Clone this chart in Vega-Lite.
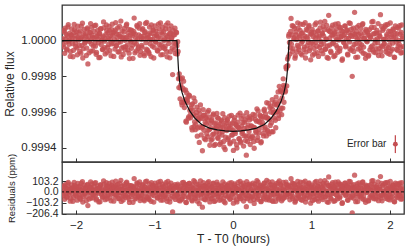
{
"$schema":"https://vega.github.io/schema/vega-lite/v6.json",
"padding":{"top":4,"left":3,"right":4,"bottom":5},
"spacing":0,
"bounds":"flush",
"background":"white",
"config":{
 "view":{"stroke":"#333333","strokeWidth":1.3},
 "font":"Liberation Sans",
 "axis":{"domain":false,"grid":false,"tickColor":"#333333","tickSize":-4,"tickWidth":1,"labelOverlap":false,"labelFont":"Liberation Sans","labelColor":"#262626","titleFont":"Liberation Sans","titleFontWeight":"normal","titleColor":"#262626"}
},
"datasets":{
"obs":[
{"t":-2.17,"f":1.000012,"r":12},{"t":-2.16,"f":0.999965,"r":-35},{"t":-2.15,"f":1.000048,"r":48},{"t":-2.14,"f":1.00007,"r":70},{"t":-2.13,"f":0.999992,"r":-8},{"t":-2.12,"f":0.999948,"r":-52},{"t":-2.11,"f":1.000025,"r":25},{"t":-2.10,"f":1.00009,"r":90},{"t":-2.09,"f":0.99998,"r":-20},{"t":-2.08,"f":1.000005,"r":5},
{"t":-2.07,"f":0.999939,"r":-61},{"t":-2.06,"f":1.000033,"r":33},{"t":-2.05,"f":1.000015,"r":15},{"t":-2.04,"f":0.99991,"r":-90},{"t":-2.03,"f":1.000044,"r":44},{"t":-2.02,"f":1.000062,"r":62},{"t":-2.01,"f":0.999986,"r":-14},{"t":-2.00,"f":1.000028,"r":28},{"t":-1.99,"f":0.99996,"r":-40},{"t":-1.98,"f":1.000081,"r":81},
{"t":-1.97,"f":1.000003,"r":3},{"t":-1.96,"f":0.999973,"r":-27},{"t":-1.95,"f":1.000055,"r":55},{"t":-1.94,"f":0.99993,"r":-70},{"t":-1.93,"f":1.00002,"r":20},{"t":-1.92,"f":1.000098,"r":98},{"t":-1.91,"f":0.999955,"r":-45},{"t":-1.90,"f":1.00001,"r":10},{"t":-1.89,"f":0.999985,"r":-15},{"t":-1.88,"f":1.000037,"r":37},
{"t":-1.87,"f":0.999917,"r":-83},{"t":-1.86,"f":1.000064,"r":64},{"t":-1.85,"f":0.99987,"r":-130},{"t":-1.84,"f":1.000022,"r":22},{"t":-1.83,"f":0.999995,"r":-5},{"t":-1.82,"f":1.000046,"r":46},{"t":-1.81,"f":0.999942,"r":-58},{"t":-1.80,"f":1.000075,"r":75},{"t":-1.79,"f":1.000018,"r":18},{"t":-1.78,"f":0.99997,"r":-30},
{"t":-1.77,"f":1.000052,"r":52},{"t":-1.76,"f":0.999988,"r":-12},{"t":-1.75,"f":1.000087,"r":87},{"t":-1.74,"f":0.999934,"r":-66},{"t":-1.73,"f":1.00003,"r":30},{"t":-1.72,"f":1.000008,"r":8},{"t":-1.71,"f":0.999905,"r":-95},{"t":-1.70,"f":1.000041,"r":41},{"t":-1.69,"f":1.000066,"r":66},{"t":-1.68,"f":0.999978,"r":-22},
{"t":-1.67,"f":1.000019,"r":19},{"t":-1.66,"f":0.999952,"r":-48},{"t":-1.65,"f":1.000105,"r":105},{"t":-1.64,"f":0.999997,"r":-3},{"t":-1.63,"f":0.999926,"r":-74},{"t":-1.62,"f":1.000035,"r":35},{"t":-1.61,"f":1.000058,"r":58},{"t":-1.60,"f":0.999963,"r":-37},{"t":-1.59,"f":1.000013,"r":13},{"t":-1.58,"f":1.00008,"r":80},
{"t":-1.57,"f":0.999944,"r":-56},{"t":-1.56,"f":1.000027,"r":27},{"t":-1.55,"f":0.999982,"r":-18},{"t":-1.54,"f":1.000092,"r":92},{"t":-1.53,"f":1.000044,"r":44},{"t":-1.52,"f":0.999912,"r":-88},{"t":-1.51,"f":1.000006,"r":6},{"t":-1.50,"f":1.00006,"r":60},{"t":-1.49,"f":0.999971,"r":-29},{"t":-1.48,"f":1.000038,"r":38},
{"t":-1.47,"f":1.000071,"r":71},{"t":-1.46,"f":0.999991,"r":-9},{"t":-1.45,"f":0.999937,"r":-63},{"t":-1.44,"f":1.000024,"r":24},{"t":-1.43,"f":1.00011,"r":110},{"t":-1.42,"f":0.999959,"r":-41},{"t":-1.41,"f":1.000016,"r":16},{"t":-1.40,"f":0.999923,"r":-77},{"t":-1.39,"f":1.000049,"r":49},{"t":-1.38,"f":1.000002,"r":2},
{"t":-1.37,"f":0.999967,"r":-33},{"t":-1.36,"f":1.000085,"r":85},{"t":-1.35,"f":1.000021,"r":21},{"t":-1.34,"f":0.999948,"r":-52},{"t":-1.33,"f":1.000063,"r":63},{"t":-1.32,"f":0.9999,"r":-100},{"t":-1.31,"f":1.000031,"r":31},{"t":-1.30,"f":0.999994,"r":-6},{"t":-1.29,"f":1.000057,"r":57},{"t":-1.28,"f":0.999975,"r":-25},
{"t":-1.27,"f":1.00004,"r":40},{"t":-1.26,"f":1.000127,"r":127},{"t":-1.25,"f":0.999932,"r":-68},{"t":-1.24,"f":1.000014,"r":14},{"t":-1.23,"f":0.999981,"r":-19},{"t":-1.22,"f":1.000078,"r":78},{"t":-1.21,"f":0.999956,"r":-44},{"t":-1.20,"f":1.000033,"r":33},{"t":-1.19,"f":1.000095,"r":95},{"t":-1.18,"f":0.99994,"r":-60},
{"t":-1.17,"f":1.000009,"r":9},{"t":-1.16,"f":0.999964,"r":-36},{"t":-1.15,"f":1.000068,"r":68},{"t":-1.14,"f":1.000025,"r":25},{"t":-1.13,"f":0.999916,"r":-84},{"t":-1.12,"f":1.00005,"r":50},{"t":-1.11,"f":0.999989,"r":-11},{"t":-1.10,"f":1.000102,"r":102},{"t":-1.09,"f":0.999947,"r":-53},{"t":-1.08,"f":1.000018,"r":18},
{"t":-1.07,"f":0.999928,"r":-72},{"t":-1.06,"f":1.000043,"r":43},{"t":-1.05,"f":1.000007,"r":7},{"t":-1.04,"f":1.000088,"r":88},{"t":-1.03,"f":0.99997,"r":-30},{"t":-1.02,"f":1.000061,"r":61},{"t":-1.01,"f":0.999903,"r":-97},{"t":-1.00,"f":1.000026,"r":26},{"t":-0.99,"f":0.999996,"r":-4},{"t":-0.98,"f":1.000054,"r":54},
{"t":-0.97,"f":1.000036,"r":36},{"t":-0.96,"f":0.999942,"r":-58},{"t":-0.95,"f":1.000093,"r":93},{"t":-0.94,"f":0.999979,"r":-21},{"t":-0.93,"f":1.000012,"r":12},{"t":-0.92,"f":0.999921,"r":-79},{"t":-0.91,"f":1.000047,"r":47},{"t":-0.90,"f":1.000074,"r":74},{"t":-0.89,"f":0.999962,"r":-38},{"t":-0.88,"f":1.000001,"r":1},
{"t":-0.87,"f":0.999955,"r":-45},{"t":-0.86,"f":1.000066,"r":66},{"t":-0.85,"f":1.000029,"r":29},{"t":-0.84,"f":0.99991,"r":-90},{"t":-0.83,"f":1.0001,"r":100},{"t":-0.82,"f":0.999984,"r":-16},{"t":-0.81,"f":1.000039,"r":39},{"t":-0.80,"f":0.999938,"r":-62},{"t":-0.79,"f":1.000083,"r":83},{"t":-0.78,"f":1.000015,"r":15},
{"t":-0.77,"f":0.99981,"r":-190},{"t":-0.76,"f":1.000032,"r":32},{"t":-0.75,"f":0.99995,"r":-50},{"t":-0.74,"f":1.00007,"r":70},{"t":-0.73,"f":0.99998,"r":-20},{"t":-0.72,"f":1.000045,"r":45},{"t":-0.71,"f":0.999925,"r":-35},{"t":-0.70,"f":0.99994,"r":60},{"t":-0.69,"f":0.999737,"r":-80},{"t":-0.68,"f":0.99979,"r":20},
{"t":-0.67,"f":0.999735,"r":-15},{"t":-0.66,"f":0.999785,"r":55},{"t":-0.65,"f":0.99964,"r":-70},{"t":-0.64,"f":0.999734,"r":38},{"t":-0.63,"f":0.999773,"r":90},{"t":-0.62,"f":0.999625,"r":-44},{"t":-0.61,"f":0.999669,"r":12},{"t":-0.60,"f":0.999549,"r":-99},{"t":-0.59,"f":0.999707,"r":67},{"t":-0.58,"f":0.999655,"r":24},
{"t":-0.57,"f":0.999565,"r":-57},{"t":-0.56,"f":0.999695,"r":81},{"t":-0.55,"f":0.999609,"r":4},{"t":-0.54,"f":0.999568,"r":-31},{"t":-0.53,"f":0.99964,"r":48},{"t":-0.52,"f":0.9995,"r":-86},{"t":-0.51,"f":0.99961,"r":30},{"t":-0.50,"f":0.99968,"r":106},{"t":-0.49,"f":0.999545,"r":-23},{"t":-0.48,"f":0.999501,"r":-62},
{"t":-0.47,"f":0.999578,"r":19},{"t":-0.46,"f":0.999628,"r":73},{"t":-0.45,"f":0.999511,"r":-40},{"t":-0.44,"f":0.999556,"r":9},{"t":-0.43,"f":0.99943,"r":-112},{"t":-0.42,"f":0.99959,"r":52},{"t":-0.41,"f":0.999569,"r":35},{"t":-0.40,"f":0.999512,"r":-18},{"t":-0.39,"f":0.999383,"r":-145},{"t":-0.38,"f":0.999614,"r":88},
{"t":-0.37,"f":0.999498,"r":-26},{"t":-0.36,"f":0.999583,"r":61},{"t":-0.35,"f":0.999445,"r":-75},{"t":-0.34,"f":0.999532,"r":14},{"t":-0.33,"f":0.999558,"r":42},{"t":-0.32,"f":0.999462,"r":-52},{"t":-0.31,"f":0.999609,"r":97},{"t":-0.30,"f":0.999502,"r":-8},{"t":-0.29,"f":0.999537,"r":28},{"t":-0.28,"f":0.999442,"r":-66},
{"t":-0.27,"f":0.999557,"r":50},{"t":-0.26,"f":0.999473,"r":-33},{"t":-0.25,"f":0.999589,"r":84},{"t":-0.24,"f":0.999413,"r":-91},{"t":-0.23,"f":0.999509,"r":6},{"t":-0.22,"f":0.999539,"r":37},{"t":-0.21,"f":0.999487,"r":-14},{"t":-0.20,"f":0.999569,"r":69},{"t":-0.19,"f":0.999452,"r":-47},{"t":-0.18,"f":0.999522,"r":23},
{"t":-0.17,"f":0.999418,"r":-80},{"t":-0.16,"f":0.999509,"r":11},{"t":-0.15,"f":0.999555,"r":58},{"t":-0.14,"f":0.999471,"r":-25},{"t":-0.13,"f":0.999591,"r":95},{"t":-0.12,"f":0.999435,"r":-60},{"t":-0.11,"f":0.999526,"r":31},{"t":-0.10,"f":0.99939,"r":-104},{"t":-0.09,"f":0.999539,"r":45},{"t":-0.08,"f":0.999496,"r":2},
{"t":-0.07,"f":0.999557,"r":64},{"t":-0.06,"f":0.999455,"r":-38},{"t":-0.05,"f":0.99951,"r":17},{"t":-0.04,"f":0.999422,"r":-71},{"t":-0.03,"f":0.999532,"r":40},{"t":-0.02,"f":0.999581,"r":89},{"t":-0.01,"f":0.999472,"r":-20},{"t":0.00,"f":0.999499,"r":7},{"t":0.01,"f":0.999437,"r":-55},{"t":0.02,"f":0.999568,"r":76},
{"t":0.03,"f":0.99948,"r":-12},{"t":0.04,"f":0.999526,"r":33},{"t":0.05,"f":0.999398,"r":-95},{"t":0.06,"f":0.999544,"r":51},{"t":0.07,"f":0.999514,"r":21},{"t":0.08,"f":0.999451,"r":-43},{"t":0.09,"f":0.999594,"r":100},{"t":0.10,"f":0.999428,"r":-66},{"t":0.11,"f":0.999523,"r":28},{"t":0.12,"f":0.99949,"r":-5},
{"t":0.13,"f":0.999578,"r":82},{"t":0.14,"f":0.999467,"r":-29},{"t":0.15,"f":0.999543,"r":46},{"t":0.16,"f":0.99944,"r":-58},{"t":0.17,"f":0.999358,"r":-140},{"t":0.18,"f":0.999512,"r":13},{"t":0.19,"f":0.999569,"r":70},{"t":0.20,"f":0.999464,"r":-36},{"t":0.21,"f":0.999556,"r":55},{"t":0.22,"f":0.999418,"r":-84},
{"t":0.23,"f":0.999521,"r":18},{"t":0.24,"f":0.999565,"r":61},{"t":0.25,"f":0.999458,"r":-47},{"t":0.26,"f":0.999515,"r":9},{"t":0.27,"f":0.999397,"r":-110},{"t":0.28,"f":0.999582,"r":74},{"t":0.29,"f":0.999493,"r":-16},{"t":0.30,"f":0.999549,"r":39},{"t":0.31,"f":0.999441,"r":-71},{"t":0.32,"f":0.999606,"r":92},
{"t":0.33,"f":0.999482,"r":-34},{"t":0.34,"f":0.999543,"r":25},{"t":0.35,"f":0.999577,"r":57},{"t":0.36,"f":0.999434,"r":-88},{"t":0.37,"f":0.999527,"r":3},{"t":0.38,"f":0.999574,"r":48},{"t":0.39,"f":0.999466,"r":-62},{"t":0.40,"f":0.999616,"r":86},{"t":0.41,"f":0.999515,"r":-19},{"t":0.42,"f":0.999568,"r":30},
{"t":0.43,"f":0.999652,"r":110},{"t":0.44,"f":0.999497,"r":-50},{"t":0.45,"f":0.999565,"r":14},{"t":0.46,"f":0.999478,"r":-77},{"t":0.47,"f":0.999625,"r":66},{"t":0.48,"f":0.9996,"r":37},{"t":0.49,"f":0.99954,"r":-28},{"t":0.50,"f":0.999669,"r":95},{"t":0.51,"f":0.999489,"r":-91},{"t":0.52,"f":0.999594,"r":8},
{"t":0.53,"f":0.999644,"r":52},{"t":0.54,"f":0.999554,"r":-45},{"t":0.55,"f":0.999684,"r":79},{"t":0.56,"f":0.999601,"r":-13},{"t":0.57,"f":0.999644,"r":22},{"t":0.58,"f":0.999564,"r":-67},{"t":0.59,"f":0.999744,"r":104},{"t":0.60,"f":0.999609,"r":-39},{"t":0.61,"f":0.999717,"r":60},{"t":0.62,"f":0.999585,"r":-84},
{"t":0.63,"f":0.999709,"r":26},{"t":0.64,"f":0.999786,"r":90},{"t":0.65,"f":0.999655,"r":-55},{"t":0.66,"f":0.999741,"r":11},{"t":0.67,"f":0.99972,"r":-30},{"t":0.68,"f":0.999842,"r":72},{"t":0.69,"f":0.999857,"r":40},{"t":0.70,"f":0.99986,"r":-20},{"t":0.71,"f":1.000025,"r":65},{"t":0.72,"f":0.99999,"r":-10},
{"t":0.73,"f":0.99996,"r":-40},{"t":0.74,"f":1.000125,"r":125},{"t":0.75,"f":1.000033,"r":33},{"t":0.76,"f":0.999938,"r":-62},{"t":0.77,"f":1.000081,"r":81},{"t":0.78,"f":1.000017,"r":17},{"t":0.79,"f":0.999902,"r":-98},{"t":0.80,"f":1.000049,"r":49},{"t":0.81,"f":1.000006,"r":6},{"t":0.82,"f":0.999973,"r":-27},
{"t":0.83,"f":1.00007,"r":70},{"t":0.84,"f":0.999949,"r":-51},{"t":0.85,"f":1.000028,"r":28},{"t":0.86,"f":1.000093,"r":93},{"t":0.87,"f":0.999985,"r":-15},{"t":0.88,"f":0.99992,"r":-80},{"t":0.89,"f":1.000044,"r":44},{"t":0.90,"f":1.000012,"r":12},{"t":0.91,"f":0.999964,"r":-36},{"t":0.92,"f":1.000101,"r":101},
{"t":0.93,"f":0.999936,"r":-64},{"t":0.94,"f":1.000021,"r":21},{"t":0.95,"f":1.000058,"r":58},{"t":0.96,"f":0.999991,"r":-9},{"t":0.97,"f":1.000085,"r":85},{"t":0.98,"f":0.999958,"r":-42},{"t":0.99,"f":0.999893,"r":-107},{"t":1.00,"f":1.000037,"r":37},{"t":1.01,"f":1.000063,"r":63},{"t":1.02,"f":0.99998,"r":-20},
{"t":1.03,"f":1.000047,"r":47},{"t":1.04,"f":0.999927,"r":-73},{"t":1.05,"f":1.000015,"r":15},{"t":1.06,"f":1.000099,"r":99},{"t":1.07,"f":0.999969,"r":-31},{"t":1.08,"f":1.000054,"r":54},{"t":1.09,"f":0.999912,"r":-88},{"t":1.10,"f":1.000026,"r":26},{"t":1.11,"f":1.000072,"r":72},{"t":1.12,"f":0.999996,"r":-4},
{"t":1.13,"f":0.999944,"r":-56},{"t":1.14,"f":1.000038,"r":38},{"t":1.15,"f":1.00008,"r":80},{"t":1.16,"f":0.999981,"r":-19},{"t":1.17,"f":1.000108,"r":108},{"t":1.18,"f":0.999953,"r":-47},{"t":1.19,"f":1.000009,"r":9},{"t":1.20,"f":0.999906,"r":-94},{"t":1.21,"f":1.000061,"r":61},{"t":1.22,"f":1.000142,"r":142},
{"t":1.23,"f":0.999975,"r":-25},{"t":1.24,"f":1.00005,"r":50},{"t":1.25,"f":0.999934,"r":-66},{"t":1.26,"f":1.00003,"r":30},{"t":1.27,"f":1.000087,"r":87},{"t":1.28,"f":0.999988,"r":-12},{"t":1.29,"f":1.000042,"r":42},{"t":1.30,"f":0.999917,"r":-83},{"t":1.31,"f":1.000018,"r":18},{"t":1.32,"f":1.000066,"r":66},
{"t":1.33,"f":0.999961,"r":-39},{"t":1.34,"f":1.000095,"r":95},{"t":1.35,"f":1.000004,"r":4},{"t":1.36,"f":0.999942,"r":-58},{"t":1.37,"f":1.000073,"r":73},{"t":1.38,"f":1.000024,"r":24},{"t":1.39,"f":0.99989,"r":-110},{"t":1.40,"f":1.000051,"r":51},{"t":1.41,"f":0.999993,"r":-7},{"t":1.42,"f":1.000035,"r":35},
{"t":1.43,"f":1.000082,"r":82},{"t":1.44,"f":0.999972,"r":-28},{"t":1.45,"f":1.000057,"r":57},{"t":1.46,"f":0.999925,"r":-75},{"t":1.47,"f":1.000013,"r":13},{"t":1.48,"f":1.0001,"r":100},{"t":1.49,"f":0.999954,"r":-46},{"t":1.50,"f":1.000029,"r":29},{"t":1.51,"f":1.000064,"r":64},{"t":1.52,"f":0.9998,"r":-200},
{"t":1.53,"f":1.000041,"r":41},{"t":1.54,"f":0.99994,"r":-60},{"t":1.55,"f":1.000159,"r":159},{"t":1.56,"f":1.000022,"r":22},{"t":1.57,"f":0.999983,"r":-17},{"t":1.58,"f":1.000076,"r":76},{"t":1.59,"f":0.999908,"r":-92},{"t":1.60,"f":1.000035,"r":35},{"t":1.61,"f":1.000008,"r":8},{"t":1.62,"f":0.999959,"r":-41},
{"t":1.63,"f":1.000068,"r":68},{"t":1.64,"f":0.999977,"r":-23},{"t":1.65,"f":1.00009,"r":90},{"t":1.66,"f":0.99993,"r":-70},{"t":1.67,"f":1.000014,"r":14},{"t":1.68,"f":1.000047,"r":47},{"t":1.69,"f":0.999901,"r":-99},{"t":1.70,"f":1.000055,"r":55},{"t":1.71,"f":0.999994,"r":-6},{"t":1.72,"f":1.000031,"r":31},
{"t":1.73,"f":0.999919,"r":-81},{"t":1.74,"f":1.000062,"r":62},{"t":1.75,"f":1.00002,"r":20},{"t":1.76,"f":0.999964,"r":-36},{"t":1.77,"f":1.000105,"r":105},{"t":1.78,"f":0.999948,"r":-52},{"t":1.79,"f":1.000038,"r":38},{"t":1.80,"f":1.000074,"r":74},{"t":1.81,"f":0.999986,"r":-14},{"t":1.82,"f":0.999933,"r":-67},
{"t":1.83,"f":1.000043,"r":43},{"t":1.84,"f":1.000011,"r":11},{"t":1.85,"f":1.000096,"r":96},{"t":1.86,"f":0.999956,"r":-44},{"t":1.87,"f":1.000027,"r":27},{"t":1.88,"f":1.000146,"r":146},{"t":1.89,"f":0.99997,"r":-30},{"t":1.90,"f":0.999915,"r":-85},{"t":1.91,"f":1.000058,"r":58},{"t":1.92,"f":1.000007,"r":7},
{"t":1.93,"f":0.999982,"r":-18},{"t":1.94,"f":1.000079,"r":79},{"t":1.95,"f":0.999938,"r":-62},{"t":1.96,"f":1.000034,"r":34},{"t":1.97,"f":1.000091,"r":91},{"t":1.98,"f":0.999961,"r":-39},{"t":1.99,"f":1.000005,"r":5},{"t":2.00,"f":0.999924,"r":-76},{"t":2.01,"f":1.000052,"r":52},{"t":2.02,"f":1.000023,"r":23},
{"t":2.03,"f":0.999953,"r":-47},{"t":2.04,"f":1.000066,"r":66},{"t":2.05,"f":1.000015,"r":15},{"t":2.06,"f":0.999906,"r":-94},{"t":2.07,"f":1.000083,"r":83},{"t":2.08,"f":0.999992,"r":-8},{"t":2.09,"f":1.00004,"r":40},{"t":2.10,"f":0.999945,"r":-55},{"t":2.11,"f":1.00007,"r":70},{"t":2.12,"f":0.999979,"r":-21},
{"t":2.13,"f":1.000036,"r":36},{"t":2.14,"f":0.999931,"r":-69},{"t":2.15,"f":1.000088,"r":88},{"t":2.16,"f":1.000012,"r":12},{"t":2.17,"f":0.999967,"r":-33},
{"t":-2.165,"f":0.999978,"r":-22},{"t":-2.155,"f":1.000057,"r":57},{"t":-2.145,"f":0.999929,"r":-71},{"t":-2.135,"f":1.000008,"r":8},{"t":-2.125,"f":1.000034,"r":34},{"t":-2.115,"f":0.999954,"r":-46},{"t":-2.105,"f":1.000077,"r":77},{"t":-2.095,"f":0.999997,"r":-3},{"t":-2.085,"f":1.000041,"r":41},{"t":-2.075,"f":0.999912,"r":-88},
{"t":-2.065,"f":1.000029,"r":29},{"t":-2.055,"f":1.000066,"r":66},{"t":-2.045,"f":0.999983,"r":-17},{"t":-2.035,"f":0.999946,"r":-54},{"t":-2.025,"f":1.000091,"r":91},{"t":-2.015,"f":1.000012,"r":12},{"t":-2.005,"f":0.999967,"r":-33},{"t":-1.995,"f":1.00005,"r":50},{"t":-1.985,"f":0.999921,"r":-79},{"t":-1.975,"f":1.000019,"r":19},
{"t":-1.965,"f":1.000045,"r":45},{"t":-1.955,"f":0.99994,"r":-60},{"t":-1.945,"f":1.000014,"r":14},{"t":-1.935,"f":1.000082,"r":82},{"t":-1.925,"f":0.999974,"r":-26},{"t":-1.915,"f":0.999903,"r":-97},{"t":-1.905,"f":1.000038,"r":38},{"t":-1.895,"f":1.000063,"r":63},{"t":-1.885,"f":0.999992,"r":-8},{"t":-1.875,"f":1.000025,"r":25},
{"t":-1.865,"f":0.999958,"r":-42},{"t":-1.855,"f":1.000071,"r":71},{"t":-1.845,"f":1.000005,"r":5},{"t":-1.835,"f":0.999932,"r":-68},{"t":-1.825,"f":1.000047,"r":47},{"t":-1.815,"f":1.000096,"r":96},{"t":-1.805,"f":0.999981,"r":-19},{"t":-1.795,"f":1.00003,"r":30},{"t":-1.785,"f":0.999943,"r":-57},{"t":-1.775,"f":1.000013,"r":13},
{"t":-1.765,"f":1.000084,"r":84},{"t":-1.755,"f":0.999969,"r":-31},{"t":-1.745,"f":0.999924,"r":-76},{"t":-1.735,"f":1.000022,"r":22},{"t":-1.725,"f":1.000058,"r":58},{"t":-1.715,"f":0.999988,"r":-12},{"t":-1.705,"f":1.000039,"r":39},{"t":-1.695,"f":0.999907,"r":-93},{"t":-1.685,"f":1.000067,"r":67},{"t":-1.675,"f":1.000001,"r":1},
{"t":-1.665,"f":0.99995,"r":-50},{"t":-1.655,"f":1.000026,"r":26},{"t":-1.645,"f":1.000073,"r":73},{"t":-1.635,"f":0.999961,"r":-39},{"t":-1.625,"f":1.00001,"r":10},{"t":-1.615,"f":1.000088,"r":88},{"t":-1.605,"f":0.999935,"r":-65},{"t":-1.595,"f":1.000043,"r":43},{"t":-1.585,"f":0.999979,"r":-21},{"t":-1.575,"f":1.000055,"r":55},
{"t":-1.565,"f":1.000007,"r":7},{"t":-1.555,"f":0.999916,"r":-84},{"t":-1.545,"f":1.000062,"r":62},{"t":-1.535,"f":1.000031,"r":31},{"t":-1.525,"f":0.999985,"r":-15},{"t":-1.515,"f":1.000049,"r":49},{"t":-1.505,"f":0.999953,"r":-47},{"t":-1.495,"f":1.000101,"r":101},{"t":-1.485,"f":0.999971,"r":-29},{"t":-1.475,"f":1.000018,"r":18},
{"t":-1.465,"f":0.999937,"r":-63},{"t":-1.455,"f":1.000035,"r":35},{"t":-1.445,"f":1.00008,"r":80},{"t":-1.435,"f":0.999993,"r":-7},{"t":-1.425,"f":0.999909,"r":-91},{"t":-1.415,"f":1.000054,"r":54},{"t":-1.405,"f":1.000021,"r":21},{"t":-1.395,"f":0.999964,"r":-36},{"t":-1.385,"f":1.000069,"r":69},{"t":-1.375,"f":0.999948,"r":-52},
{"t":-1.365,"f":1.000016,"r":16},{"t":-1.355,"f":1.000093,"r":93},{"t":-1.345,"f":0.999976,"r":-24},{"t":-1.335,"f":1.000044,"r":44},{"t":-1.325,"f":0.99993,"r":-70},{"t":-1.315,"f":1.000003,"r":3},{"t":-1.305,"f":1.00006,"r":60},{"t":-1.295,"f":0.999957,"r":-43},{"t":-1.285,"f":1.000027,"r":27},{"t":-1.275,"f":0.999901,"r":-99},
{"t":-1.265,"f":1.000052,"r":52},{"t":-1.255,"f":0.999989,"r":-11},{"t":-1.245,"f":1.000037,"r":37},{"t":-1.235,"f":0.999942,"r":-58},{"t":-1.225,"f":1.000086,"r":86},{"t":-1.215,"f":1.000009,"r":9},{"t":-1.205,"f":0.999965,"r":-35},{"t":-1.195,"f":1.00007,"r":70},{"t":-1.185,"f":0.999918,"r":-82},{"t":-1.175,"f":1.000024,"r":24},
{"t":-1.165,"f":0.999973,"r":-27},{"t":-1.155,"f":1.000061,"r":61},{"t":-1.145,"f":1.000011,"r":11},{"t":-1.135,"f":0.999927,"r":-73},{"t":-1.125,"f":1.000045,"r":45},{"t":-1.115,"f":1.000097,"r":97},{"t":-1.105,"f":0.999952,"r":-48},{"t":-1.095,"f":1.000015,"r":15},{"t":-1.085,"f":1.000032,"r":32},{"t":-1.075,"f":0.999936,"r":-64},
{"t":-1.065,"f":1.000076,"r":76},{"t":-1.055,"f":0.999982,"r":-18},{"t":-1.045,"f":0.999911,"r":-89},{"t":-1.035,"f":1.00004,"r":40},{"t":-1.025,"f":1.000006,"r":6},{"t":-1.015,"f":1.000059,"r":59},{"t":-1.005,"f":0.999963,"r":-37},{"t":-0.995,"f":1.000083,"r":83},{"t":-0.985,"f":0.999991,"r":-9},{"t":-0.975,"f":1.000028,"r":28},
{"t":-0.965,"f":0.999945,"r":-55},{"t":-0.955,"f":1.000019,"r":19},{"t":-0.945,"f":1.000068,"r":68},{"t":-0.935,"f":0.999956,"r":-44},{"t":-0.925,"f":1.000099,"r":99},{"t":-0.915,"f":0.999977,"r":-23},{"t":-0.905,"f":1.000036,"r":36},{"t":-0.895,"f":0.999922,"r":-78},{"t":-0.885,"f":1.000051,"r":51},{"t":-0.875,"f":1.00001,"r":10},
{"t":-0.865,"f":0.999969,"r":-31},{"t":-0.855,"f":1.000087,"r":87},{"t":-0.845,"f":0.999939,"r":-61},{"t":-0.835,"f":1.000023,"r":23},{"t":-0.825,"f":1.000004,"r":4},{"t":-0.815,"f":1.000065,"r":65},{"t":-0.805,"f":0.999904,"r":-96},{"t":-0.795,"f":1.000042,"r":42},{"t":-0.785,"f":1.000017,"r":17},{"t":-0.775,"f":0.99996,"r":-40},
{"t":-0.765,"f":1.000058,"r":58},{"t":-0.755,"f":0.999986,"r":-14},{"t":-0.745,"f":1.000033,"r":33},{"t":-0.735,"f":0.999928,"r":-72},{"t":-0.725,"f":1.000048,"r":48},{"t":-0.715,"f":0.999972,"r":-28},{"t":-0.705,"f":0.999994,"r":74},{"t":-0.695,"f":0.999787,"r":-53},{"t":-0.685,"f":0.999814,"r":20},{"t":-0.675,"f":0.999674,"r":-86},
{"t":-0.665,"f":0.999752,"r":12},{"t":-0.655,"f":0.999654,"r":-66},{"t":-0.645,"f":0.999792,"r":89},{"t":-0.635,"f":0.999655,"r":-35},{"t":-0.625,"f":0.999723,"r":47},{"t":-0.615,"f":0.999655,"r":-8},{"t":-0.605,"f":0.999724,"r":72},{"t":-0.595,"f":0.999543,"r":-101},{"t":-0.585,"f":0.999665,"r":30},{"t":-0.575,"f":0.999681,"r":55},
{"t":-0.565,"f":0.999573,"r":-45},{"t":-0.555,"f":0.99969,"r":81},{"t":-0.545,"f":0.999583,"r":-19},{"t":-0.535,"f":0.999621,"r":26},{"t":-0.525,"f":0.999512,"r":-77},{"t":-0.515,"f":0.999646,"r":63},{"t":-0.505,"f":0.999585,"r":8},{"t":-0.495,"f":0.999519,"r":-52},{"t":-0.485,"f":0.999659,"r":94},{"t":-0.475,"f":0.999531,"r":-30},
{"t":-0.465,"f":0.999598,"r":41},{"t":-0.455,"f":0.999465,"r":-88},{"t":-0.445,"f":0.999564,"r":15},{"t":-0.435,"f":0.999611,"r":67},{"t":-0.425,"f":0.999517,"r":-23},{"t":-0.415,"f":0.99964,"r":104},{"t":-0.405,"f":0.999472,"r":-60},{"t":-0.395,"f":0.999564,"r":35},{"t":-0.385,"f":0.999518,"r":-9},{"t":-0.375,"f":0.999581,"r":56},
{"t":-0.365,"f":0.999452,"r":-71},{"t":-0.355,"f":0.999543,"r":22},{"t":-0.345,"f":0.999568,"r":49},{"t":-0.335,"f":0.999479,"r":-38},{"t":-0.325,"f":0.9996,"r":85},{"t":-0.315,"f":0.999499,"r":-14},{"t":-0.305,"f":0.999571,"r":60},{"t":-0.295,"f":0.999414,"r":-95},{"t":-0.285,"f":0.999511,"r":3},{"t":-0.275,"f":0.999551,"r":44},
{"t":-0.265,"f":0.999449,"r":-57},{"t":-0.255,"f":0.999583,"r":78},{"t":-0.245,"f":0.999478,"r":-26},{"t":-0.235,"f":0.999534,"r":31},{"t":-0.225,"f":0.999419,"r":-83},{"t":-0.215,"f":0.999513,"r":12},{"t":-0.205,"f":0.999592,"r":92},{"t":-0.195,"f":0.999458,"r":-41},{"t":-0.185,"f":0.999565,"r":66},{"t":-0.175,"f":0.99948,"r":-18},
{"t":-0.165,"f":0.999535,"r":37},{"t":-0.155,"f":0.999428,"r":-69},{"t":-0.145,"f":0.999549,"r":53},{"t":-0.135,"f":0.99949,"r":-6},{"t":-0.125,"f":0.999516,"r":21},{"t":-0.115,"f":0.999403,"r":-92},{"t":-0.105,"f":0.999569,"r":75},{"t":-0.095,"f":0.99946,"r":-34},{"t":-0.085,"f":0.999503,"r":9},{"t":-0.075,"f":0.999551,"r":58},
{"t":-0.065,"f":0.999445,"r":-48},{"t":-0.055,"f":0.999522,"r":29},{"t":-0.045,"f":0.999577,"r":84},{"t":-0.035,"f":0.999429,"r":-63},{"t":-0.025,"f":0.999508,"r":16},{"t":-0.015,"f":0.999471,"r":-21},{"t":-0.005,"f":0.999539,"r":47},{"t":0.005,"f":0.999385,"r":-107},{"t":0.015,"f":0.999554,"r":62},{"t":0.025,"f":0.999489,"r":-3},
{"t":0.035,"f":0.999531,"r":39},{"t":0.045,"f":0.999417,"r":-76},{"t":0.055,"f":0.999517,"r":24},{"t":0.065,"f":0.999583,"r":90},{"t":0.075,"f":0.99945,"r":-43},{"t":0.085,"f":0.999505,"r":11},{"t":0.095,"f":0.999436,"r":-58},{"t":0.105,"f":0.999564,"r":70},{"t":0.115,"f":0.99948,"r":-15},{"t":0.125,"f":0.999541,"r":46},
{"t":0.135,"f":0.999409,"r":-87},{"t":0.145,"f":0.999509,"r":13},{"t":0.155,"f":0.999556,"r":59},{"t":0.165,"f":0.999466,"r":-32},{"t":0.175,"f":0.999596,"r":98},{"t":0.185,"f":0.999435,"r":-64},{"t":0.195,"f":0.999527,"r":28},{"t":0.205,"f":0.999491,"r":-9},{"t":0.215,"f":0.999574,"r":73},{"t":0.225,"f":0.999452,"r":-50},
{"t":0.235,"f":0.999523,"r":20},{"t":0.245,"f":0.999465,"r":-39},{"t":0.255,"f":0.999587,"r":82},{"t":0.265,"f":0.999435,"r":-71},{"t":0.275,"f":0.999513,"r":6},{"t":0.285,"f":0.999559,"r":51},{"t":0.295,"f":0.999484,"r":-25},{"t":0.305,"f":0.999618,"r":107},{"t":0.315,"f":0.999457,"r":-56},{"t":0.325,"f":0.999549,"r":34},
{"t":0.335,"f":0.999505,"r":-12},{"t":0.345,"f":0.999583,"r":64},{"t":0.355,"f":0.999428,"r":-93},{"t":0.365,"f":0.999566,"r":43},{"t":0.375,"f":0.999542,"r":17},{"t":0.385,"f":0.99948,"r":-47},{"t":0.395,"f":0.999608,"r":79},{"t":0.405,"f":0.999504,"r":-28},{"t":0.415,"f":0.999591,"r":55},{"t":0.425,"f":0.999466,"r":-74},
{"t":0.435,"f":0.999569,"r":25},{"t":0.445,"f":0.999489,"r":-60},{"t":0.455,"f":0.999649,"r":96},{"t":0.465,"f":0.999559,"r":2},{"t":0.475,"f":0.999525,"r":-36},{"t":0.485,"f":0.999633,"r":68},{"t":0.495,"f":0.99949,"r":-81},{"t":0.505,"f":0.999615,"r":38},{"t":0.515,"f":0.999596,"r":13},{"t":0.525,"f":0.999567,"r":-22},
{"t":0.535,"f":0.999656,"r":61},{"t":0.545,"f":0.999512,"r":-90},{"t":0.555,"f":0.999639,"r":30},{"t":0.565,"f":0.999603,"r":-15},{"t":0.575,"f":0.999713,"r":87},{"t":0.585,"f":0.999582,"r":-53},{"t":0.595,"f":0.999663,"r":19},{"t":0.605,"f":0.999723,"r":71},{"t":0.615,"f":0.999622,"r":-41},{"t":0.625,"f":0.99968,"r":4},
{"t":0.635,"f":0.999622,"r":-68},{"t":0.645,"f":0.999749,"r":46},{"t":0.655,"f":0.999735,"r":15},{"t":0.665,"f":0.999713,"r":-27},{"t":0.675,"f":0.999853,"r":93},{"t":0.685,"f":0.999746,"r":-48},{"t":0.695,"f":0.999897,"r":57},{"t":0.705,"f":0.99991,"r":-10},{"t":0.715,"f":1.000036,"r":36},{"t":0.725,"f":0.999925,"r":-75},
{"t":0.735,"f":1.000052,"r":52},{"t":0.745,"f":0.999981,"r":-19},{"t":0.755,"f":1.000084,"r":84},{"t":0.765,"f":0.999956,"r":-44},{"t":0.775,"f":1.00001,"r":10},{"t":0.785,"f":1.000069,"r":69},{"t":0.795,"f":0.999914,"r":-86},{"t":0.805,"f":1.000033,"r":33},{"t":0.815,"f":0.999938,"r":-62},{"t":0.825,"f":1.0001,"r":100},
{"t":0.835,"f":0.999965,"r":-35},{"t":0.845,"f":1.000018,"r":18},{"t":0.855,"f":1.000058,"r":58},{"t":0.865,"f":0.999928,"r":-72},{"t":0.875,"f":1.000041,"r":41},{"t":0.885,"f":0.999995,"r":-5},{"t":0.895,"f":1.000091,"r":91},{"t":0.905,"f":0.999951,"r":-49},{"t":0.915,"f":1.000026,"r":26},{"t":0.925,"f":0.999903,"r":-97},
{"t":0.935,"f":1.000063,"r":63},{"t":0.945,"f":0.999972,"r":-28},{"t":0.955,"f":1.000012,"r":12},{"t":0.965,"f":1.000079,"r":79},{"t":0.975,"f":0.999944,"r":-56},{"t":0.985,"f":1.000037,"r":37},{"t":0.995,"f":0.999986,"r":-14},{"t":1.005,"f":1.000048,"r":48},{"t":1.015,"f":0.999919,"r":-81},{"t":1.025,"f":1.000022,"r":22},
{"t":1.035,"f":0.999956,"r":-44},{"t":1.045,"f":1.00009,"r":90},{"t":1.055,"f":0.999991,"r":-9},{"t":1.065,"f":1.000031,"r":31},{"t":1.075,"f":0.999933,"r":-67},{"t":1.085,"f":1.000055,"r":55},{"t":1.095,"f":1.000016,"r":16},{"t":1.105,"f":0.999962,"r":-38},{"t":1.115,"f":1.000104,"r":104},{"t":1.125,"f":0.999978,"r":-22},
{"t":1.135,"f":1.000043,"r":43},{"t":1.145,"f":0.999927,"r":-73},{"t":1.155,"f":1.000027,"r":27},{"t":1.165,"f":1.000062,"r":62},{"t":1.175,"f":0.999952,"r":-48},{"t":1.185,"f":1.000008,"r":8},{"t":1.195,"f":1.000085,"r":85},{"t":1.205,"f":0.99997,"r":-30},{"t":1.215,"f":0.999901,"r":-99},{"t":1.225,"f":1.000054,"r":54},
{"t":1.235,"f":1.000015,"r":15},{"t":1.245,"f":0.999941,"r":-59},{"t":1.255,"f":1.000071,"r":71},{"t":1.265,"f":0.999983,"r":-17},{"t":1.275,"f":1.000034,"r":34},{"t":1.285,"f":0.999911,"r":-89},{"t":1.295,"f":1.000049,"r":49},{"t":1.305,"f":1.000092,"r":92},{"t":1.315,"f":0.999974,"r":-26},{"t":1.325,"f":1.000006,"r":6},
{"t":1.335,"f":0.999935,"r":-65},{"t":1.345,"f":1.000038,"r":38},{"t":1.355,"f":1.000077,"r":77},{"t":1.365,"f":0.999957,"r":-43},{"t":1.375,"f":1.00002,"r":20},{"t":1.385,"f":1.000056,"r":56},{"t":1.395,"f":0.999898,"r":-102},{"t":1.405,"f":1.000029,"r":29},{"t":1.415,"f":0.999989,"r":-11},{"t":1.425,"f":1.000083,"r":83},
{"t":1.435,"f":0.999966,"r":-34},{"t":1.445,"f":1.000013,"r":13},{"t":1.455,"f":1.00006,"r":60},{"t":1.465,"f":0.99992,"r":-80},{"t":1.475,"f":1.000045,"r":45},{"t":1.485,"f":0.999993,"r":-7},{"t":1.495,"f":1.000097,"r":97},{"t":1.505,"f":0.999946,"r":-54},{"t":1.515,"f":1.000024,"r":24},{"t":1.525,"f":0.999961,"r":-39},
{"t":1.535,"f":1.00007,"r":70},{"t":1.545,"f":0.999979,"r":-21},{"t":1.555,"f":1.000036,"r":36},{"t":1.565,"f":0.999907,"r":-93},{"t":1.575,"f":1.000052,"r":52},{"t":1.585,"f":1.000009,"r":9},{"t":1.595,"f":0.999953,"r":-47},{"t":1.605,"f":1.000086,"r":86},{"t":1.615,"f":0.999984,"r":-16},{"t":1.625,"f":1.000041,"r":41},
{"t":1.635,"f":0.999942,"r":-58},{"t":1.645,"f":1.000027,"r":27},{"t":1.655,"f":1.000095,"r":95},{"t":1.665,"f":0.999964,"r":-36},{"t":1.675,"f":1.000011,"r":11},{"t":1.685,"f":0.999925,"r":-75},{"t":1.695,"f":1.000063,"r":63},{"t":1.705,"f":0.999998,"r":-2},{"t":1.715,"f":1.000048,"r":48},{"t":1.725,"f":0.999913,"r":-87},
{"t":1.735,"f":1.000032,"r":32},{"t":1.745,"f":0.999949,"r":-51},{"t":1.755,"f":1.000018,"r":18},{"t":1.765,"f":1.000074,"r":74},{"t":1.775,"f":0.999971,"r":-29},{"t":1.785,"f":1.000108,"r":108},{"t":1.795,"f":0.999936,"r":-64},{"t":1.805,"f":1.000039,"r":39},{"t":1.815,"f":1.000005,"r":5},{"t":1.825,"f":0.999955,"r":-45},
{"t":1.835,"f":1.000057,"r":57},{"t":1.845,"f":0.999988,"r":-12},{"t":1.855,"f":0.999917,"r":-83},{"t":1.865,"f":1.000044,"r":44},{"t":1.875,"f":1.000021,"r":21},{"t":1.885,"f":0.99994,"r":-60},{"t":1.895,"f":1.00008,"r":80},{"t":1.905,"f":0.999967,"r":-33},{"t":1.915,"f":1.000067,"r":67},{"t":1.925,"f":0.999981,"r":-19},
{"t":1.935,"f":1.000009,"r":9},{"t":1.945,"f":1.000088,"r":88},{"t":1.955,"f":0.999954,"r":-46},{"t":1.965,"f":1.000026,"r":26},{"t":1.975,"f":0.999929,"r":-71},{"t":1.985,"f":1.000053,"r":53},{"t":1.995,"f":0.999976,"r":-24},{"t":2.005,"f":1.000099,"r":99},{"t":2.015,"f":0.999943,"r":-57},{"t":2.025,"f":1.000035,"r":35},
{"t":2.035,"f":0.999986,"r":-14},{"t":2.045,"f":1.000061,"r":61},{"t":2.055,"f":0.999908,"r":-92},{"t":2.065,"f":1.00004,"r":40},{"t":2.075,"f":1.000016,"r":16},{"t":2.085,"f":0.999951,"r":-49},{"t":2.095,"f":1.000075,"r":75},{"t":2.105,"f":0.99997,"r":-30},{"t":2.115,"f":1.000002,"r":2},{"t":2.125,"f":1.000084,"r":84},
{"t":2.135,"f":0.999962,"r":-38},{"t":2.145,"f":1.000047,"r":47},{"t":2.155,"f":0.999934,"r":-66},{"t":2.165,"f":1.000023,"r":23}
],
"model":[
{"t":-2.18,"f":1.0},{"t":-0.715,"f":1.0},{"t":-0.705,"f":0.99992},{"t":-0.695,"f":0.99984},{"t":-0.68,"f":0.99977},{"t":-0.65,"f":0.99971},{"t":-0.613,"f":0.99966},{"t":-0.55,"f":0.999605},{"t":-0.485,"f":0.999565},{"t":-0.40,"f":0.99953},{"t":-0.30,"f":0.99951},{"t":-0.20,"f":0.9995},{"t":-0.10,"f":0.999494},{"t":0.0,"f":0.999492},
{"t":0.10,"f":0.999494},{"t":0.20,"f":0.9995},{"t":0.30,"f":0.99951},{"t":0.40,"f":0.99953},{"t":0.485,"f":0.999565},{"t":0.55,"f":0.999605},{"t":0.613,"f":0.99966},{"t":0.65,"f":0.99971},{"t":0.68,"f":0.99977},{"t":0.695,"f":0.99984},{"t":0.705,"f":0.99992},{"t":0.715,"f":1.0},{"t":2.18,"f":1.0}
],
"eb":[{"t":2.07,"f":0.99942,"lo":0.99937,"hi":0.99947,"label":"Error bar"}],
"zero":[{"r":0}]
},
"vconcat":[
{
 "width":342,"height":157,
 "layer":[
  {"data":{"name":"obs"},"mark":{"type":"circle","size":28,"color":"#c44e52","opacity":0.82,"clip":true},
   "encoding":{
    "x":{"field":"t","type":"quantitative","scale":{"domain":[-2.18,2.18],"nice":false,"zero":false},"axis":{"labels":false,"title":null,"values":[-2,-1,0,1,2]}},
    "y":{"field":"f","type":"quantitative","scale":{"domain":[0.99932,1.0002],"nice":false,"zero":false},"axis":{"title":"Relative flux","titleFontSize":12,"titlePadding":4,"values":[0.9994,0.9996,0.9998,1.0],"format":".4f","labelFontSize":11.5,"labelPadding":10}}
   }},
  {"data":{"name":"model"},"mark":{"type":"line","color":"#111111","strokeWidth":1.2},
   "encoding":{"x":{"field":"t","type":"quantitative"},"y":{"field":"f","type":"quantitative"}}},
  {"data":{"name":"eb"},"mark":{"type":"rule","color":"#c44e52","strokeWidth":1.3},
   "encoding":{"x":{"field":"t","type":"quantitative"},"y":{"field":"lo","type":"quantitative"},"y2":{"field":"hi"}}},
  {"data":{"name":"eb"},"mark":{"type":"circle","size":24,"color":"#c44e52","opacity":1},
   "encoding":{"x":{"field":"t","type":"quantitative"},"y":{"field":"f","type":"quantitative"}}},
  {"data":{"name":"eb"},"mark":{"type":"text","align":"right","baseline":"middle","dx":-9,"fontSize":10,"font":"Liberation Sans","color":"#262626"},
   "encoding":{"x":{"field":"t","type":"quantitative"},"y":{"field":"f","type":"quantitative"},"text":{"field":"label"}}}
 ]
},
{
 "width":342,"height":52,
 "layer":[
  {"data":{"name":"obs"},"mark":{"type":"circle","size":28,"color":"#c44e52","opacity":0.82,"clip":true},
   "encoding":{
    "x":{"field":"t","type":"quantitative","scale":{"domain":[-2.18,2.18],"nice":false,"zero":false},"axis":{"title":"T - T0 (hours)","titleFontSize":12,"titlePadding":3,"values":[-2,-1,0,1,2],"labelFontSize":11.5,"labelPadding":9}},
    "y":{"field":"r","type":"quantitative","scale":{"domain":[-210,284],"nice":false,"zero":false},"axis":{"title":"Residuals (ppm)","titleFontSize":9.5,"titlePadding":9,"values":[-206.4,-103.2,0,103.2],"format":".1f","labelFontSize":10.5,"labelPadding":8,"labelOverlap":false,"labelSeparation":0,"labelBound":false}}
   }},
  {"data":{"name":"zero"},"mark":{"type":"rule","color":"#111111","strokeWidth":1,"strokeDash":[3,2]},
   "encoding":{"y":{"field":"r","type":"quantitative","axis":{"title":"Residuals (ppm)","titleFontSize":9.5,"titlePadding":9,"values":[-206.4,-103.2,0,103.2],"format":".1f","labelFontSize":10.5,"labelPadding":8,"labelOverlap":false,"labelSeparation":0,"labelBound":false}}}}
 ]
}
]
}
